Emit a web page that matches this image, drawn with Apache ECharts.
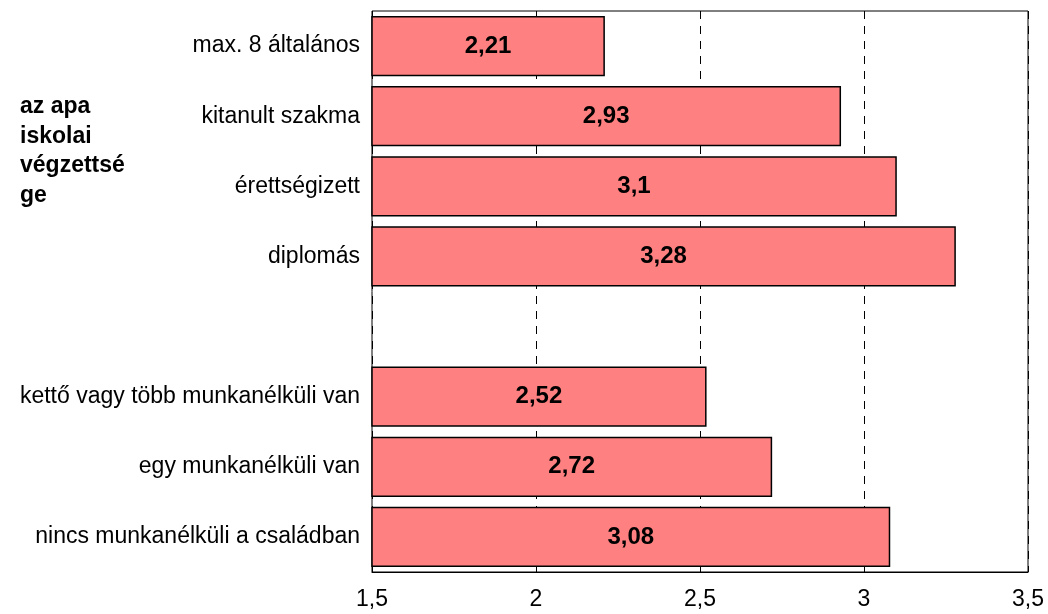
<!DOCTYPE html>
<html>
<head>
<meta charset="utf-8">
<script src="https://cdn.jsdelivr.net/npm/echarts@6/dist/echarts.min.js"></script>
<style>
  html, body { margin: 0; padding: 0; background: #fff; }
  #chart { width: 1048px; height: 614px; }
</style>
</head>
<body>
<div id="chart"></div>
<script>
const categories = [
  'max. 8 általános',
  'kitanult szakma',
  'érettségizett',
  'diplomás',
  '',
  'kettő vagy több munkanélküli van',
  'egy munkanélküli van',
  'nincs munkanélküli a családban',
];
const values = [2.21, 2.93, 3.1, 3.28, '-', 2.52, 2.72, 3.08];
const sideTitle = 'az apa\niskolai\nvégzettsé\nge';

const fmt = (v) => String(v).replace('.', ',');
const FONT = 'Liberation Sans, Arial, sans-serif';

const chart = echarts.init(document.getElementById('chart'), null, { renderer: 'canvas' });
chart.setOption({
  animation: false,
  grid: {
    left: 372, right: 20, top: 11, bottom: 42,
    show: true, borderColor: '#000', borderWidth: 1, backgroundColor: 'transparent',
  },
  xAxis: {
    type: 'value',
    min: 1.5, max: 3.5, interval: 0.5,
    axisLine: { show: true, lineStyle: { color: '#000', width: 1 } },
    axisTick: { show: true, inside: true, length: 5, lineStyle: { color: '#000' } },
    axisLabel: { color: '#000', fontSize: 23, fontFamily: FONT, margin: 16, formatter: fmt },
    splitLine: { show: true, lineStyle: { color: '#000', type: [8, 7], width: 1 } },
  },
  yAxis: {
    type: 'category',
    data: categories,
    inverse: true,
    axisLine: { show: false },
    axisTick: { show: false },
    axisLabel: { color: '#000', fontSize: 23, fontFamily: FONT, margin: 12 },
  },
  graphic: [{
    type: 'text',
    left: 20, top: 92,
    style: { text: sideTitle, fill: '#000', font: 'bold 23px ' + FONT, lineHeight: 29.5 },
  }],
  series: [{
    type: 'bar',
    data: values,
    barCategoryGap: '14%',
    itemStyle: { color: '#FF8080', borderColor: '#000', borderWidth: 1.5 },
    label: {
      show: true, position: 'inside', color: '#000',
      fontSize: 24, fontWeight: 'bold', fontFamily: FONT,
      formatter: (p) => fmt(p.value),
    },
  }],
});
</script>
</body>
</html>
